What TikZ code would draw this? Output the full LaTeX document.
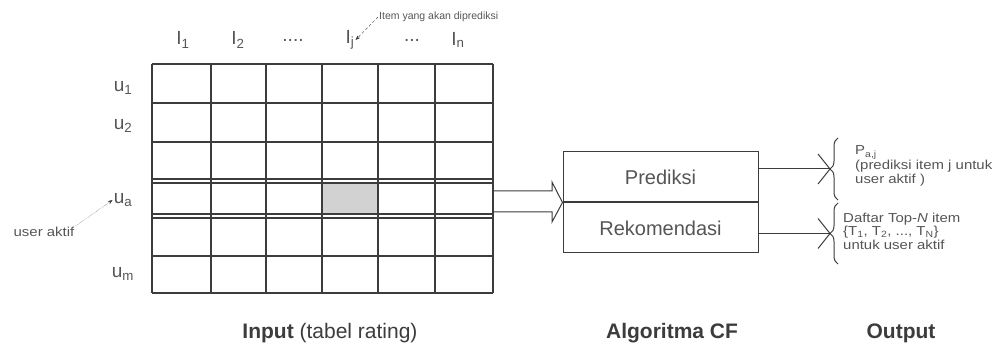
\documentclass[tikz,border=0pt]{standalone}
\usepackage{fontspec}
\setmainfont{Liberation Sans}
\newfontfamily\widesans[FakeStretch=1.15]{Liberation Sans}
\usetikzlibrary{arrows.meta,positioning,decorations.pathreplacing}
\definecolor{scanink}{RGB}{60,60,60}
\definecolor{scantext}{RGB}{85,85,85}
\definecolor{scancell}{RGB}{210,210,210}

\begin{document}
\begin{tikzpicture}[x=1pt, y=-1pt,
    gridline/.style={draw=scanink, line width=1.2pt},
    hdr/.style={font=\fontsize{19}{22}\selectfont, text=scantext, inner sep=1pt},
    algbox/.style={draw=scanink, line width=1pt, minimum width=195pt, minimum height=50pt, font=\fontsize{20}{24}\selectfont, text=scantext},
    outtext/.style={font=\widesans\fontsize{13}{13.5}\selectfont, text=scantext, align=left, anchor=west, inner sep=0pt},
    note/.style={font=\fontsize{10.5}{12}\selectfont, text=scantext, inner sep=1pt},
    caption/.style={font=\fontsize{21}{24}\selectfont, text=scanink},
    outline/.style={draw=scanink, line width=1pt},
    >=Stealth
]
\useasboundingbox (0,0) rectangle (998,352);

% rating table
\fill[scancell] (322,183) rectangle (378,214);
\foreach \x in {152,211,266,322,378,435,493}
    \draw[gridline] (\x,64) -- (\x,293);
\foreach \y in {64,103,142,179,183,214,218,256,293}
    \draw[gridline] (152,\y) -- (493,\y);

\node[hdr] (i1) at (183,40) {I\textsubscript{1}};
\node[hdr] (i2) at (238,40) {I\textsubscript{2}};
\node[hdr] (idots1) at (293,40) {....};
\node[hdr] (ij) at (350,40) {I\textsubscript{j}};
\node[hdr] (idots2) at (412,40) {...};
\node[hdr] (in) at (458,40) {I\textsubscript{n}};

\node[hdr] (u1) at (123,88) {u\textsubscript{1}};
\node[hdr] (u2) at (123,126) {u\textsubscript{2}};
\node[hdr] (ua) at (123,200) {u\textsubscript{a}};
\node[hdr] (um) at (123,274) {u\textsubscript{m}};

\node[note, anchor=west] (itemnote) at (378,17) {Item yang akan diprediksi};
\draw[->, scanink, densely dashed] (itemnote.west) -- (ij.east);
\node[note, font=\widesans\fontsize{13}{15}\selectfont] (useraktif) at (44,232) {user aktif};
\draw[->, scanink, densely dotted] (useraktif.north east) -- (ua.west);

% algoritma CF
\node[algbox] (pred) at (660.5,177) {Prediksi};
\node[algbox, below=0pt of pred] (rekom) {Rekomendasi};
\coordinate (gridout) at (493,201);
\draw[outline] (gridout |- 0,191) -- (552,191) -- (552,182) -- (pred.south west)
    -- (552,222) -- (552,212) -- (gridout |- 0,212);

% output
\draw[outline, decorate, decoration={brace, amplitude=8pt}] (838,200) -- (838,138);
\draw[outline, decorate, decoration={brace, amplitude=8pt}] (838,264) -- (838,203);
\coordinate (cusp1) at (830,169);
\coordinate (cusp2) at (830,233.5);
\draw[outline] (pred.east |- cusp1) -- (cusp1);
\draw[outline] (rekom.east |- cusp2) -- (cusp2);
\draw[outline] (cusp1) ++(-12,-15) -- (cusp1) -- ++(-12,15);
\draw[outline] (cusp2) ++(-12,-15) -- (cusp2) -- ++(-12,15);
\node[outtext] (predout) at (855,166) {P\textsubscript{a,j}\\(prediksi item j untuk\\user aktif )};
\node[outtext] (rekomout) at (843,231) {Daftar Top-\textit{N} item\\\{T\textsubscript{1}, T\textsubscript{2}, ..., T\textsubscript{N}\}\\untuk user aktif};

% captions
\node[caption] (incap) at (330,333) {\textbf{Input} (tabel rating)};
\node[caption] (algcap) at (672,333) {\textbf{Algoritma CF}};
\node[caption] (outcap) at (901,333) {\textbf{Output}};
\end{tikzpicture}
\end{document}
